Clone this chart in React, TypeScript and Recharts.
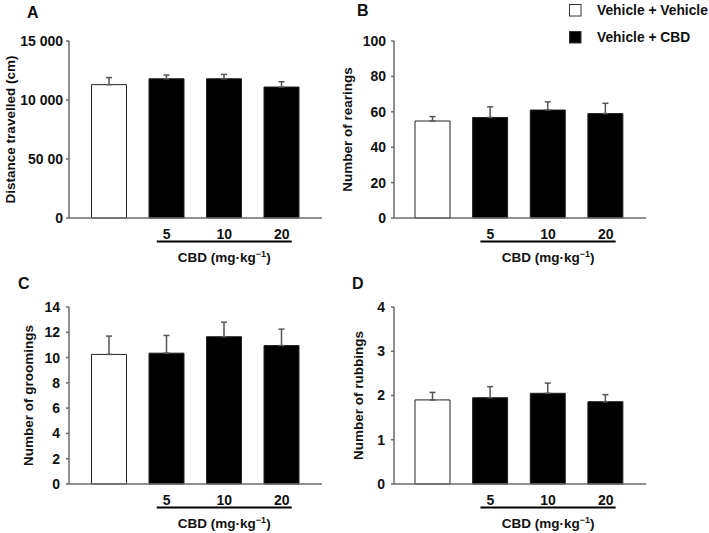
import React from 'react';
import { BarChart, Bar, XAxis, YAxis, ErrorBar, Cell } from 'recharts';

const doses = ['', '5', '10', '20'];
const groupFills = ['#ffffff', '#000000', '#000000', '#000000'];
const legendNames = ['Vehicle + Vehicle', 'Vehicle + CBD'];
const legendFills = ['#ffffff', '#000000'];

const distance = [11300, 11800, 11800, 11100];
const distanceErr = [600, 320, 370, 450];
const distanceTicks = [0, 5000, 10000, 15000];
const distanceTickLabels = ['0', '50 00', '10 000', '15 000'];

const rearings = [54.8, 56.8, 61, 59];
const rearingsErr = [2.5, 6, 4.6, 5.8];
const rearingsTicks = [0, 20, 40, 60, 80, 100];

const groomings = [10.25, 10.35, 11.65, 10.95];
const groomingsErr = [1.45, 1.4, 1.15, 1.3];
const groomingsTicks = [0, 2, 4, 6, 8, 10, 12, 14];

const rubbings = [1.9, 1.95, 2.05, 1.86];
const rubbingsErr = [0.17, 0.25, 0.23, 0.16];
const rubbingsTicks = [0, 1, 2, 3, 4];

const FONT = '"Liberation Sans", Arial, sans-serif';
const AXIS = '#6b6b6b';

const build = (vals: number[], errs: number[]) =>
  doses.map((d, i) => ({ dose: d, value: vals[i], err: [0, errs[i]] }));

// bracket under the CBD doses + unit caption
const BracketLabel = (props: any) => {
  const vb = props.viewBox || {};
  const padL = props.padL;
  const padR = props.padR;
  const band = (vb.width - padL - padR) / doses.length;
  const c1 = vb.x + padL + band * 1.5;
  const c3 = vb.x + padL + band * 3.5;
  const x1 = c1 - 10;
  const x2 = c3 + 10;
  return (
    <g>
      <line x1={x1} x2={x2} y1={vb.y + 23.5} y2={vb.y + 23.5} stroke="#000" strokeWidth={2} />
      <text
        x={(x1 + x2) / 2}
        y={vb.y + 44}
        textAnchor="middle"
        fontFamily={FONT}
        fontWeight="bold"
        fontSize={13.5}
        fill="#111"
      >
        CBD (mg·kg
        <tspan dy={-5} fontSize={9}>−1</tspan>
        <tspan dy={5}>)</tspan>
      </text>
    </g>
  );
};

const YLabel = (props: any) => {
  const vb = props.viewBox || {};
  const x = vb.x + props.offsetX;
  const y = vb.y + vb.height / 2;
  return (
    <text
      x={x}
      y={y}
      transform={`rotate(-90, ${x}, ${y})`}
      textAnchor="middle"
      dominantBaseline="central"
      fontFamily={FONT}
      fontWeight="bold"
      fontSize={13.5}
      fill="#111"
    >
      {props.text}
    </text>
  );
};

interface PanelProps {
  left: number;
  top: number;
  width: number;
  yWidth: number;
  rightMargin: number;
  padL: number;
  padR: number;
  vals: number[];
  errs: number[];
  ticks: number[];
  tickLabels?: string[];
  yLabel: string;
  yLabelX: number;
  tickMargin: number;
}

const Panel = (p: PanelProps) => {
  const data = build(p.vals, p.errs);
  const max = p.ticks[p.ticks.length - 1];
  return (
    <div style={{ position: 'absolute', left: p.left, top: p.top }}>
      <BarChart
        width={p.width}
        height={265}
        data={data}
        margin={{ top: 41, right: p.rightMargin, left: 0, bottom: 0 }}
        barCategoryGap={0}
      >
        <XAxis
          dataKey="dose"
          height={47}
          padding={{ left: p.padL, right: p.padR }}
          tickLine={false}
          axisLine={{ stroke: AXIS, strokeWidth: 1.5 }}
          tick={{ fill: '#111', fontSize: 14, fontWeight: 'bold', fontFamily: FONT }}
          tickMargin={5}
          interval={0}
          label={<BracketLabel padL={p.padL} padR={p.padR} />}
        />
        <YAxis
          width={p.yWidth}
          domain={[0, max]}
          ticks={p.ticks}
          interval={0}
          tickSize={3}
          tickMargin={p.tickMargin}
          tickLine={{ stroke: AXIS, strokeWidth: 1.5 }}
          axisLine={{ stroke: AXIS, strokeWidth: 1.5 }}
          tick={{ fill: '#111', fontSize: 14, fontWeight: 'bold', fontFamily: FONT }}
          tickFormatter={(v: number, i: number) => (p.tickLabels ? p.tickLabels[i] : String(v))}
          label={<YLabel text={p.yLabel} offsetX={p.yLabelX} />}
        />
        <Bar dataKey="value" barSize={35} stroke="#222" strokeWidth={1} isAnimationActive={false}>
          {data.map((_, i) => (
            <Cell key={i} fill={groupFills[i]} />
          ))}
          <ErrorBar dataKey="err" width={3} stroke="#555" strokeWidth={1.5} direction="y" isAnimationActive={false} />
        </Bar>
      </BarChart>
    </div>
  );
};

const letterStyle: React.CSSProperties = {
  position: 'absolute',
  fontFamily: FONT,
  fontWeight: 'bold',
  fontSize: 16,
  lineHeight: '16px',
  color: '#111',
};

export default function App() {
  return (
    <div style={{ position: 'absolute', left: 0, top: 0, width: 709, height: 533, background: '#fff', overflow: 'hidden' }}>
      <Panel left={0} top={0} width={340} yWidth={69} rightMargin={18} padL={11.5} padR={11.5}
        vals={distance} errs={distanceErr} ticks={distanceTicks} tickLabels={distanceTickLabels}
        yLabel="Distance travelled (cm)" yLabelX={10} tickMargin={3} />
      <Panel left={330} top={0} width={379} yWidth={64} rightMargin={63} padL={10} padR={11.5}
        vals={rearings} errs={rearingsErr} ticks={rearingsTicks}
        yLabel="Number of rearings" yLabelX={17} tickMargin={5} />
      <Panel left={0} top={266} width={340} yWidth={69} rightMargin={18} padL={11.5} padR={11.5}
        vals={groomings} errs={groomingsErr} ticks={groomingsTicks}
        yLabel="Number of groomings" yLabelX={28} tickMargin={6} />
      <Panel left={330} top={266} width={379} yWidth={64} rightMargin={63} padL={10} padR={11.5}
        vals={rubbings} errs={rubbingsErr} ticks={rubbingsTicks}
        yLabel="Number of rubbings" yLabelX={28} tickMargin={6} />

      <div style={{ ...letterStyle, left: 27, top: 5 }}>A</div>
      <div style={{ ...letterStyle, left: 357, top: 3 }}>B</div>
      <div style={{ ...letterStyle, left: 18, top: 276 }}>C</div>
      <div style={{ ...letterStyle, left: 352, top: 276 }}>D</div>

      <svg width={709} height={533} style={{ position: 'absolute', left: 0, top: 0, pointerEvents: 'none' }}>
        {legendNames.map((name, i) => (
          <g key={name}>
            <rect x={569.5} y={4.5 + i * 27} width={11.5} height={11.5} fill={legendFills[i]} stroke="#333" strokeWidth={1} />
            <text x={597} y={15 + i * 27} fontFamily={FONT} fontWeight="bold" fontSize={13.8} fill="#111">
              {name}
            </text>
          </g>
        ))}
      </svg>
    </div>
  );
}
